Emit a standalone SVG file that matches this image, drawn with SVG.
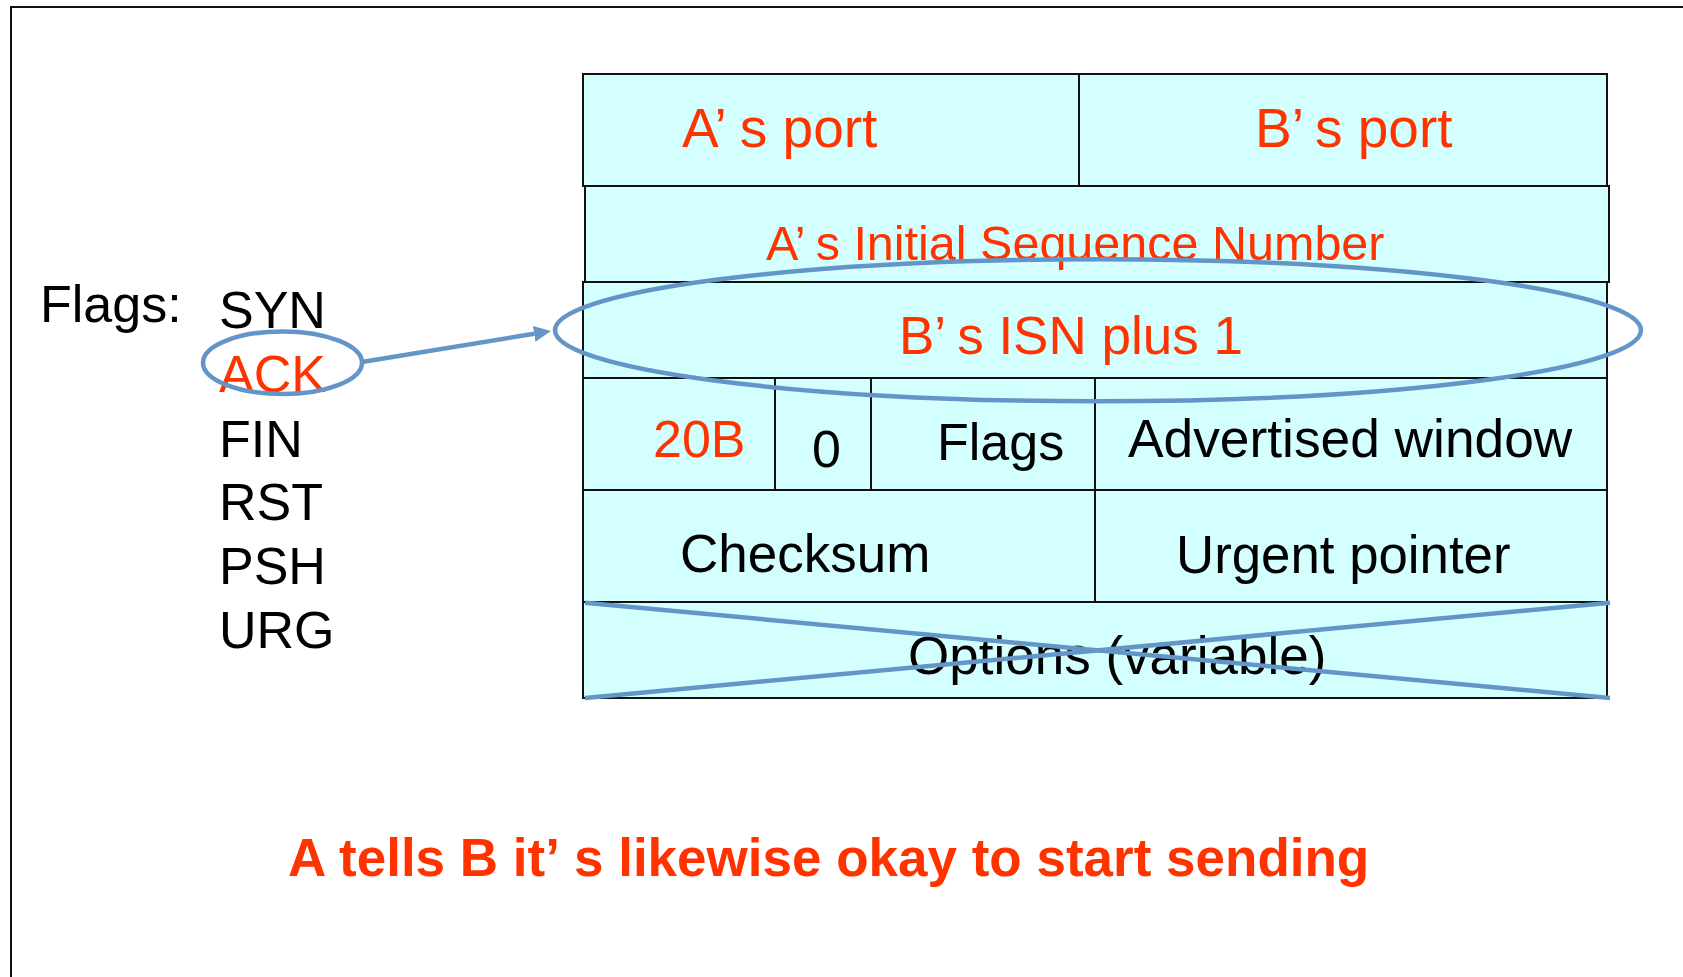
<svg xmlns="http://www.w3.org/2000/svg" width="1683" height="977" viewBox="0 0 1683 977">
  <defs>
    <style>
      .cell { fill: #D3FFFF; stroke: #111; stroke-width: 2; }
      .t { font-family: "Liberation Sans", Arial, sans-serif; }
      .red { fill: #FF3300; }
      .blk { fill: #000; }
      .ann { fill: none; stroke: #6495C8; stroke-width: 4.5; }
    </style>
    <marker id="ah" markerUnits="userSpaceOnUse" markerWidth="18" markerHeight="16" refX="0" refY="8" orient="auto">
      <path d="M0,0 L17,8 L0,16 z" fill="#6495C8"/>
    </marker>
  </defs>
  <rect width="1683" height="977" fill="#fff"/>
  <path d="M11,977 L11,7 L1683,7" fill="none" stroke="#111" stroke-width="2"/>

  <g id="row1-aport">
    <rect class="cell" x="583" y="74" width="496" height="112"/>
    <text class="t red" x="682" y="147" font-size="55">A’<tspan dx="14">s port</tspan></text>
  </g>
  <g id="row1-bport">
    <rect class="cell" x="1079" y="74" width="528" height="112"/>
    <text class="t red" x="1255" y="147" font-size="55">B’<tspan dx="12">s port</tspan></text>
  </g>
  <g id="row2-isn">
    <rect class="cell" x="585" y="186" width="1024" height="96"/>
    <text class="t red" x="766" y="260" font-size="48.5">A’<tspan dx="11">s Initial Sequence Number</tspan></text>
  </g>
  <g id="row3-ack">
    <rect class="cell" x="583" y="282" width="1024" height="96"/>
    <text class="t red" x="899" y="354" font-size="53">B’<tspan dx="12">s ISN plus 1</tspan></text>
  </g>
  <g id="row4-hlen">
    <rect class="cell" x="583" y="378" width="192" height="112"/>
    <text class="t red" x="653" y="457" font-size="52">20B</text>
  </g>
  <g id="row4-zero">
    <rect class="cell" x="775" y="378" width="96" height="112"/>
    <text class="t blk" x="812" y="467" font-size="52">0</text>
  </g>
  <g id="row4-flags">
    <rect class="cell" x="871" y="378" width="224" height="112"/>
    <text class="t blk" x="937" y="460" font-size="52">Flags</text>
  </g>
  <g id="row4-window">
    <rect class="cell" x="1095" y="378" width="512" height="112"/>
    <text class="t blk" x="1128" y="457" font-size="53.3">Advertised window</text>
  </g>
  <g id="row5-checksum">
    <rect class="cell" x="583" y="490" width="512" height="112"/>
    <text class="t blk" x="680" y="572" font-size="53">Checksum</text>
  </g>
  <g id="row5-urgent">
    <rect class="cell" x="1095" y="490" width="512" height="112"/>
    <text class="t blk" x="1176" y="573" font-size="52.8">Urgent pointer</text>
  </g>
  <g id="row6-options">
    <rect class="cell" x="583" y="602" width="1024" height="96"/>
    <text class="t blk" x="908" y="674" font-size="53">Options (variable)</text>
  </g>

  <g id="flags-list">
    <text class="t blk" x="40" y="322" font-size="52">Flags:</text>
    <text class="t blk" x="219" y="328" font-size="52">SYN</text>
    <text class="t red" x="219" y="392" font-size="52">ACK</text>
    <text class="t blk" x="219" y="457" font-size="52">FIN</text>
    <text class="t blk" x="219" y="520" font-size="52">RST</text>
    <text class="t blk" x="219" y="584" font-size="52">PSH</text>
    <text class="t blk" x="219" y="648" font-size="52">URG</text>
  </g>

  <g id="annotations">
    <ellipse class="ann" cx="282.5" cy="362.7" rx="79.5" ry="31.3"/>
    <ellipse class="ann" cx="1098" cy="330.3" rx="543" ry="71"/>
    <line class="ann" x1="585" y1="602.7" x2="1610" y2="698"/>
    <line class="ann" x1="585" y1="698" x2="1610" y2="602.7"/>
  </g>

  <g id="connectors">
    <line class="ann" x1="362" y1="362" x2="534.2" y2="333.8" marker-end="url(#ah)"/>
  </g>

  <g id="caption">
    <text class="t red" x="288" y="876" font-size="53" font-weight="bold">A tells B it’<tspan dx="16">s likewise okay to start sending</tspan></text>
  </g>
</svg>
